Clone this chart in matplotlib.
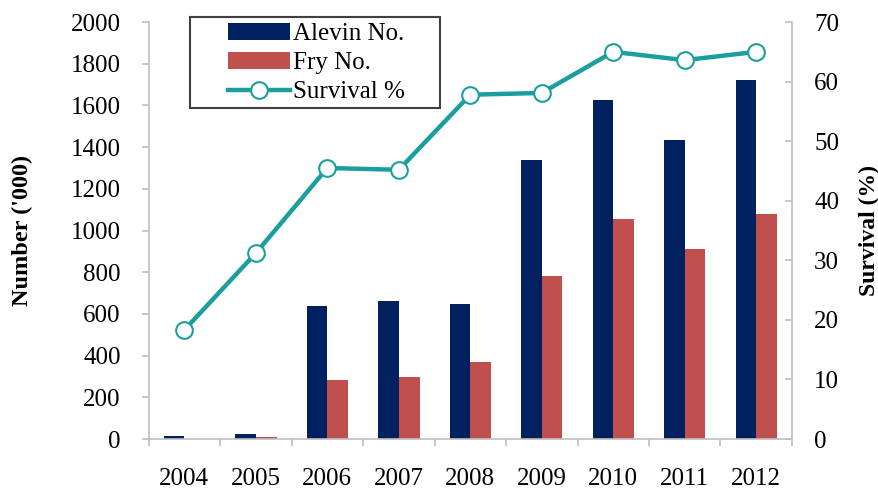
import matplotlib.pyplot as plt
from matplotlib.patches import Rectangle
import numpy as np

years = ["2004", "2005", "2006", "2007", "2008", "2009", "2010", "2011", "2012"]
alevin = [16, 24, 638, 664, 650, 1338, 1628, 1434, 1722]
fry = [0, 8, 285, 298, 370, 782, 1055, 911, 1079]
survival = [18.3, 31.2, 45.5, 45.2, 57.8, 58.1, 65.0, 63.6, 65.0]

plt.rcParams["font.family"] = ["Liberation Serif", "DejaVu Serif"]

navy = "#002060"
brick = "#C0504D"
teal = "#1A9E9E"
grey = "#BFBFBF"

W, H = 879, 490
fig, ax = plt.subplots(figsize=(W / 100, H / 100), dpi=100)
fig.subplots_adjust(left=0.169, right=0.901, top=0.955, bottom=0.104)

x = np.arange(len(years))
w = 0.29
b1 = ax.bar(x - w / 2, alevin, w, color=navy, label="Alevin No.")
b2 = ax.bar(x + w / 2, fry, w, color=brick, label="Fry No.")

ax.set_xlim(-0.5, len(years) - 0.5)
ax.set_ylim(0, 2000)
ax.set_yticks(range(0, 2001, 200))
ax.set_xticks(x)
ax.set_xticklabels(years)
ax.set_xticks(np.arange(-0.5, len(years)), minor=True)
ax.tick_params(axis="x", which="major", length=0, pad=21, labelsize=18)
ax.tick_params(axis="x", which="minor", length=5, color=grey, width=1.2)
ax.tick_params(axis="y", length=5, color=grey, width=1.2, labelsize=18, pad=15)
for s in ["top", "right"]:
    ax.spines[s].set_visible(False)
for s in ["left", "bottom"]:
    ax.spines[s].set_color(grey)
    ax.spines[s].set_linewidth(1.2)
ax.set_ylabel("Number ('000)", fontsize=17.5, fontweight="bold", labelpad=27)

ax2 = ax.twinx()
line, = ax2.plot(x, survival, color=teal, lw=3.2, marker="o", ms=12,
                 mfc="white", mec=teal, mew=1.5, label="Survival %", zorder=3)
ax2.set_ylim(0, 70)
ax2.set_yticks(range(0, 71, 10))
ax2.tick_params(axis="y", direction="in", length=5, color=grey, width=1.2,
                labelsize=18, pad=16)
for s in ["top", "left", "bottom"]:
    ax2.spines[s].set_visible(False)
ax2.spines["right"].set_color(grey)
ax2.spines["right"].set_linewidth(1.2)
ax2.set_ylabel("Survival (%)", fontsize=17, fontweight="bold", labelpad=14)

# legend frame is wider than its entries, so draw it as a separate box
box = Rectangle((190 / W, 1 - 108 / H), 250 / W, 91 / H,
                transform=fig.transFigure, facecolor="white",
                edgecolor="#404040", lw=1.5, zorder=10, clip_on=False)
ax2.add_patch(box)
leg = ax2.legend(handles=[b1, b2, line], loc="upper left",
                 bbox_to_anchor=(228 / W, 1 - 23 / H),
                 bbox_transform=fig.transFigure, fontsize=18, frameon=False,
                 handlelength=2.5, borderpad=0, labelspacing=0.26,
                 handletextpad=0.1, borderaxespad=0)
leg.set_zorder(11)

fig.savefig("out.png", dpi=100)
